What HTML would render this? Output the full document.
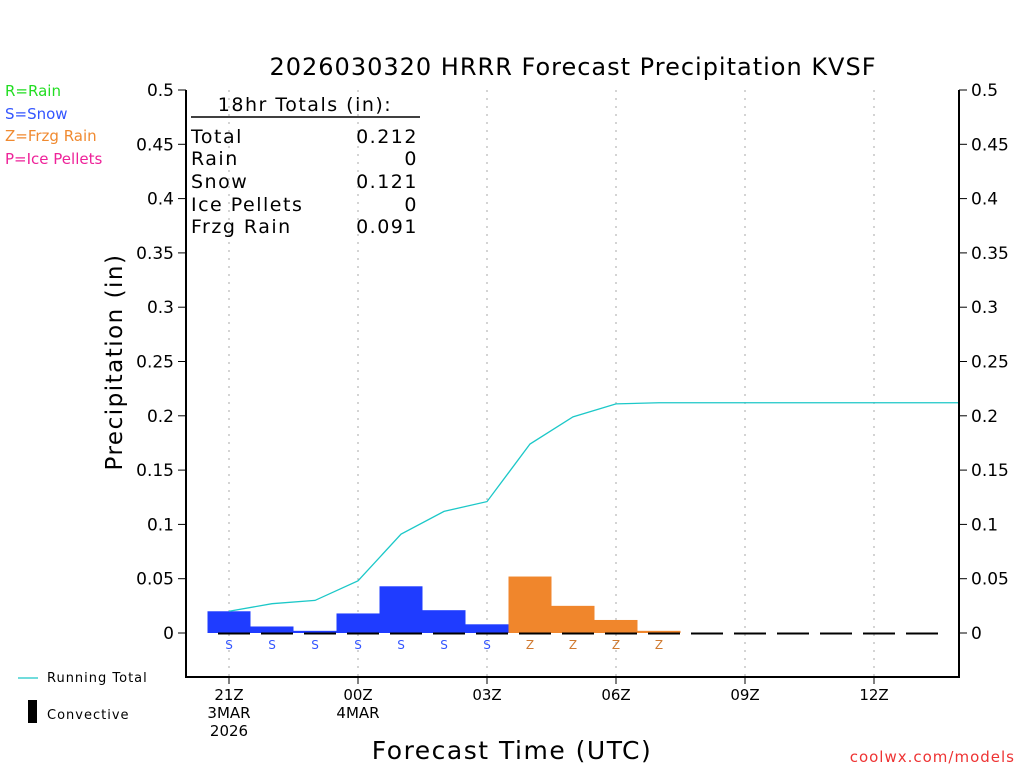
<!DOCTYPE html>
<html><head><meta charset="utf-8"><style>body{margin:0;background:#fff}svg{display:block;font-family:"DejaVu Sans","Liberation Sans",sans-serif}</style></head>
<body>
<svg id="chart" width="1024" height="768" xmlns="http://www.w3.org/2000/svg">
<text x="573" y="75" font-size="24" text-anchor="middle" letter-spacing="1">2026030320 HRRR Forecast Precipitation KVSF</text>
<g font-size="15">
<text x="5" y="96" fill="#22dd22">R=Rain</text>
<text x="5" y="119" fill="#3355ff">S=Snow</text>
<text x="5" y="141" fill="#f08a30">Z=Frzg Rain</text>
<text x="5" y="164" fill="#ee2299">P=Ice Pellets</text>
</g>
<text transform="translate(122,362) rotate(-90)" font-size="23" text-anchor="middle" letter-spacing="1.5">Precipitation (in)</text>
<text x="512" y="759" font-size="25" text-anchor="middle" letter-spacing="1.5">Forecast Time (UTC)</text>
<text x="1015" y="762" font-size="15" fill="#ee3333" text-anchor="end" letter-spacing="1">coolwx.com/models</text>
<g id="grid"></g><g id="bars"></g><g id="marks"></g>
<line x1="186" y1="90" x2="186" y2="678" stroke="#000" stroke-width="2"/>
<line x1="959" y1="90" x2="959" y2="678" stroke="#000" stroke-width="2"/>
<line x1="185" y1="677" x2="960" y2="677" stroke="#000" stroke-width="2"/>
<g id="yticks" font-size="17"></g><g id="xticks" font-size="15" text-anchor="middle"></g>
<g font-size="19" letter-spacing="1.5">
<text x="305" y="111" text-anchor="middle">18hr Totals (in):</text>
<line x1="191" y1="117" x2="420" y2="117" stroke="#000" stroke-width="1.5"/>
<text x="191" y="143">Total</text><text x="418" y="143" text-anchor="end">0.212</text>
<text x="191" y="165">Rain</text><text x="418" y="165" text-anchor="end">0</text>
<text x="191" y="188">Snow</text><text x="418" y="188" text-anchor="end">0.121</text>
<text x="191" y="211">Ice Pellets</text><text x="418" y="211" text-anchor="end">0</text>
<text x="191" y="233">Frzg Rain</text><text x="418" y="233" text-anchor="end">0.091</text>
</g>
<g font-size="13" letter-spacing="1">
<line x1="18" y1="678" x2="38" y2="678" stroke="#1cc8c8" stroke-width="1.2"/>
<text x="47" y="682">Running Total</text>
<rect x="28" y="700" width="9" height="23" fill="#000"/>
<text x="47" y="719">Convective</text>
</g>
</svg>
<script>
const hours=[0,1,2,3,4,5,6,7,8,9,10,11,12,13,14,15,16,17];
const hourlyPrecip=[0.020,0.006,0.002,0.018,0.043,0.021,0.008,0.052,0.025,0.012,0.002,0,0,0,0,0,0,0];
const precipType=["S","S","S","S","S","S","S","Z","Z","Z","Z","","","","","","",""];
const runningTotal=[0.020,0.027,0.030,0.048,0.091,0.112,0.121,0.174,0.199,0.211,0.212,0.212,0.212,0.212,0.212,0.212,0.212,0.212];
const yTicks=[0,0.05,0.1,0.15,0.2,0.25,0.3,0.35,0.4,0.45,0.5];
const yTickLabels=["0","0.05","0.1","0.15","0.2","0.25","0.3","0.35","0.4","0.45","0.5"];
const xTickHours=[0,3,6,9,12,15];
const xTickLabels=[["21Z","3MAR","2026"],["00Z","4MAR"],["03Z"],["06Z"],["09Z"],["12Z"]];
const xScale=h=>229+h*43;
const yScale=v=>633-v*1086;
const NS="http://www.w3.org/2000/svg";
function mk(p,t,a){const e=document.createElementNS(NS,t);for(const k in a)e.setAttribute(k,a[k]);document.getElementById(p).appendChild(e);return e;}
const colors={S:"#1f3cff",Z:"#f0862c"};const tcolors={S:"#3355ff",Z:"#d07a30"};
xTickHours.forEach((h,i)=>{
 const g=mk("grid","line",{x1:xScale(h),x2:xScale(h),y1:90,y2:677,stroke:"#aaa","stroke-dasharray":"2,6"});
 
 
 mk("xticks","line",{x1:xScale(h),x2:xScale(h),y1:677,y2:684,stroke:"#000"});
 xTickLabels[i].forEach((s,j)=>{const t=mk("xticks","text",{x:xScale(h),y:700+j*18});t.textContent=s;
 
 });
});
yTicks.forEach((v,i)=>{
 mk("yticks","line",{x1:178,x2:186,y1:yScale(v),y2:yScale(v),stroke:"#000"});
 mk("yticks","line",{x1:959,x2:967,y1:yScale(v),y2:yScale(v),stroke:"#000"});
 const a=mk("yticks","text",{x:174,y:yScale(v)+6,"text-anchor":"end"});a.textContent=yTickLabels[i];
 
 
 const b=mk("yticks","text",{x:971,y:yScale(v)+6});b.textContent=yTickLabels[i];
 
 
});
hours.forEach((h,i)=>{
 const v=hourlyPrecip[i],ty=precipType[i];
 if(v>0&&ty){const r=mk("bars","rect",{x:xScale(h)-21.5,y:yScale(v),width:43,height:633-yScale(v),fill:colors[ty]});
 
 }
 if(ty){const t=mk("marks","text",{x:xScale(h),y:649,"font-size":"12","text-anchor":"middle",fill:tcolors[ty]});t.textContent=ty;
 
 }
 if(h<17){const d=mk("marks","line",{x1:xScale(h)-11,x2:xScale(h)+21,y1:633.5,y2:633.5,stroke:"#000","stroke-width":2});
 
 }
});
const pts=hours.map((h,i)=>xScale(h)+","+yScale(runningTotal[i])).join(" ");
const pl=mk("marks","polyline",{points:pts,fill:"none",stroke:"#1cc8c8","stroke-width":1.3});


</script>
</body></html>
